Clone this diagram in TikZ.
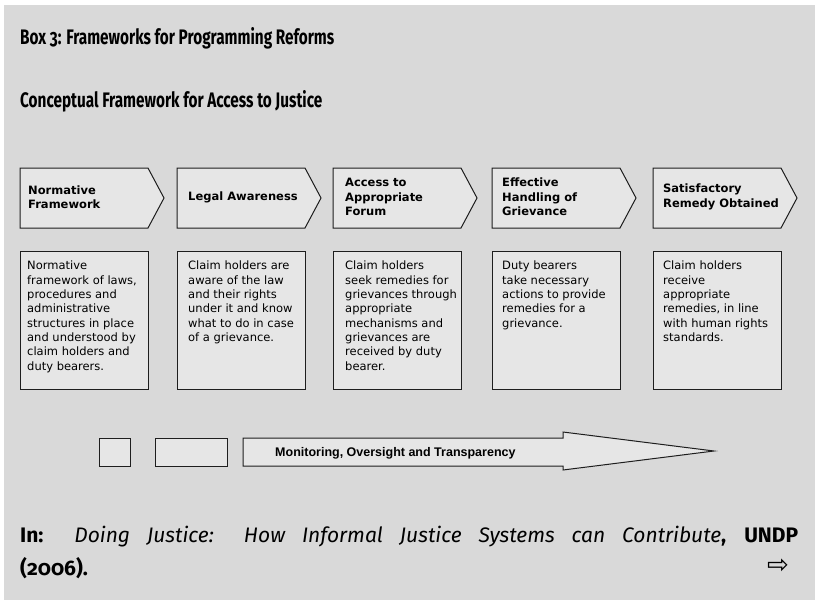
\documentclass[tikz,border=0pt]{standalone}
\usepackage{fontspec}
\setmainfont{DejaVu Sans}
\newfontfamily\ttl[Numbers=OldStyle,FakeStretch=0.73]{Fira Sans}
\newfontfamily\ctl[Numbers=OldStyle]{Fira Sans}
\newfontfamily\dv{DejaVu Sans}
\newfontfamily\mon{Liberation Sans}
\definecolor{bgc}{HTML}{D9D9D9}
\definecolor{boxc}{HTML}{E6E6E6}
\definecolor{edgec}{HTML}{1E1E1E}
\tikzset{
  shp/.style={draw=edgec, fill=boxc, line width=1pt, line join=miter},
  chevtext/.style={anchor=west, align=left, inner sep=0pt, font=\dv\bfseries\fontsize{11.5}{14.5}\selectfont},
  bodytext/.style={anchor=north west, align=left, inner sep=0pt, font=\dv\fontsize{11.5}{14.3}\selectfont},
  titletext/.style={anchor=base west, inner sep=0pt, font=\ttl\bfseries\fontsize{21}{25}\selectfont},
  cite/.style={anchor=base west, inner sep=0pt, font=\ctl\fontsize{21}{25}\selectfont}
}
\begin{document}
\begin{tikzpicture}[x=1pt,y=-1pt]
\useasboundingbox (0,0) rectangle (815,600);
\fill[white] (0,0) rectangle (815,600);
\fill[bgc] (4,5) rectangle (815,600);
% titles
\node[titletext] (t1) at (20,44) {Box 3: Frameworks for Programming Reforms};
\node[titletext] (t2) at (20,107) {Conceptual Framework for Access to Justice};
% chevrons and boxes
\foreach \x in {20,177,333,492,653} {
  \draw[shp] (\x,168) -- ++(128,0) -- ++(16,30) -- ++(-16,30) -- ++(-128,0) -- cycle;
  \draw[shp] (\x,251) rectangle ++(128,138);
}
\node[chevtext] (c1) at (28,197) {Normative\\Framework};
\node[chevtext] (c2) at (188,197) {Legal Awareness};
\node[chevtext] (c3) at (345,197) {Access to\\Appropriate\\Forum};
\node[chevtext] (c4) at (502,197) {Effective\\Handling of\\Grievance};
\node[chevtext] (c5) at (663,197) {Satisfactory\\Remedy Obtained};
\node[bodytext] (b1) at (27,261) {Normative\\framework of laws,\\procedures and\\administrative\\structures in place\\and understood by\\claim holders and\\duty bearers.};
\node[bodytext] (b2) at (188,261) {Claim holders are\\aware of the law\\and their rights\\under it and know\\what to do in case\\of a grievance.};
\node[bodytext] (b3) at (345,261) {Claim holders\\seek remedies for\\grievances through\\appropriate\\mechanisms and\\grievances are\\received by duty\\bearer.};
\node[bodytext] (b4) at (502,261) {Duty bearers\\take necessary\\actions to provide\\remedies for a\\grievance.};
\node[bodytext] (b5) at (663,261) {Claim holders\\receive\\appropriate\\remedies, in line\\with human rights\\standards.};
% monitoring row
\draw[shp] (99,438) rectangle (130,466);
\draw[shp] (155,438) rectangle (227,466);
\draw[shp] (243,438) -- (563,438) -- (563,432) -- (714,451) -- (563,470) -- (563,466) -- (243,466) -- cycle;
\node[anchor=base west, inner sep=0pt, font=\mon\bfseries\fontsize{12.5}{14}\selectfont] (m) at (275,456) {Monitoring, Oversight and Transparency};
% citation
\node[cite] (ci1) at (20,542) {\makebox[778pt][s]{\textbf{In:} \textit{Doing Justice: How Informal Justice Systems can Contribute}\textbf{, UNDP}}};
\node[cite] (ci2) at (20,575) {\textbf{(2006).}};
\node[anchor=center, inner sep=0pt, font=\dv\fontsize{26}{28}\selectfont] (ar) at (778,566) {⇨};
\end{tikzpicture}
\end{document}
